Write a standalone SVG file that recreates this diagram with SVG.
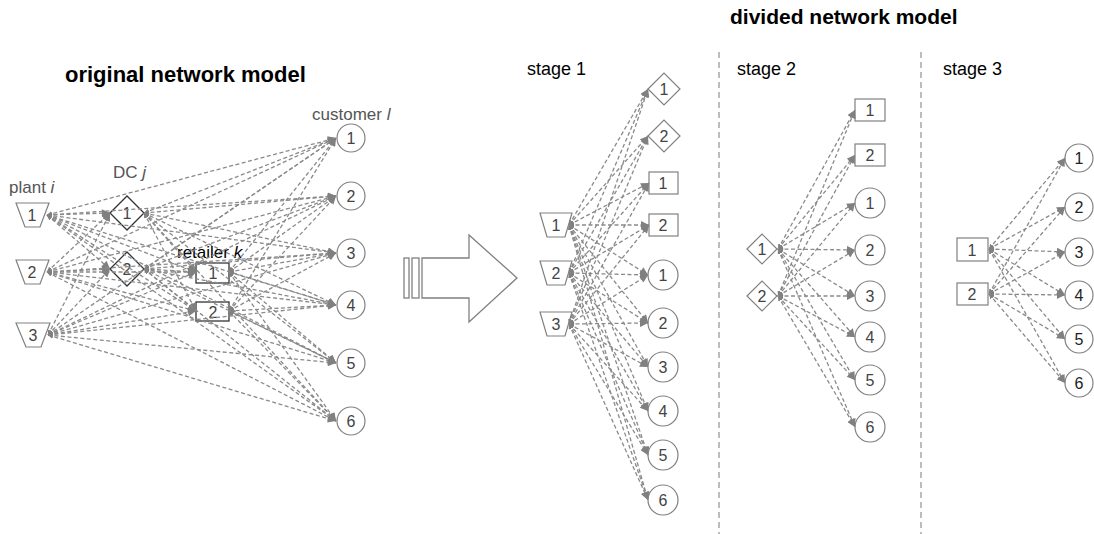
<svg xmlns="http://www.w3.org/2000/svg" width="1094" height="534" viewBox="0 0 1094 534">
<defs>
<style>
text { font-family: "Liberation Sans", Arial, sans-serif; }
.title { font-size: 21px; font-weight: bold; fill: #000; }
.stage { font-size: 18px; fill: #000; }
.lbl { font-size: 17px; fill: #555; }
.n { font-size: 16px; fill: #444; text-anchor: middle; }
.nd { font-size: 16px; fill: #222; text-anchor: middle; }
.sh { fill: #fff; stroke: #808080; stroke-width: 1.2; }
.dk { fill: none; stroke: #333; stroke-width: 1.3; }
.c { fill: none; stroke: #8a8a8a; stroke-width: 1.3; stroke-dasharray: 4 2.5; marker-start: url(#ms); marker-end: url(#me); }
.sep { stroke: #999; stroke-width: 1.3; stroke-dasharray: 6 4; }
</style>
<marker id="me" viewBox="0 0 10 10" refX="10" refY="5" markerWidth="9" markerHeight="8" markerUnits="userSpaceOnUse" orient="auto">
<path d="M0,0 L10,5 L0,10 z" fill="#808080"/>
</marker>
<marker id="ms" viewBox="0 0 10 10" refX="10" refY="5" markerWidth="5" markerHeight="5" markerUnits="userSpaceOnUse" orient="auto-start-reverse">
<path d="M0,0 L10,5 L0,10 z" fill="#808080"/>
</marker>
</defs>

<!-- titles -->
<text class="title" x="65" y="82" style="font-size:22px">original network model</text>
<text class="title" x="730" y="24">divided network model</text>
<text class="stage" x="527" y="75">stage 1</text>
<text class="stage" x="737" y="75">stage 2</text>
<text class="stage" x="943" y="75">stage 3</text>

<!-- stage separators -->
<line class="sep" x1="719" y1="52" x2="719" y2="534"/>
<line class="sep" x1="921" y1="52" x2="921" y2="534"/>

<!-- transformation arrow -->
<g id="transform-arrow" fill="#fff" stroke="#808080" stroke-width="1.3">
<rect x="404" y="258" width="5" height="40"/>
<rect x="412" y="258" width="7" height="40"/>
<polygon points="422,258 469,258 469,235 517,278 469,322 469,298 422,298"/>
</g>

<!-- original network: labels -->
<text class="lbl" x="9" y="193">plant <tspan font-style="italic">i</tspan></text>
<text class="lbl" x="113" y="178">DC <tspan font-style="italic">j</tspan></text>
<text class="lbl" x="312" y="120">customer <tspan font-style="italic">l</tspan></text>
<text class="lbl" x="177" y="258" style="fill:#000">retailer <tspan font-style="italic">k</tspan></text>

<!-- original network: nodes -->
<g id="o-plant1"><polygon class="sh" points="16,203 49,203 40,227 25,227"/><text class="n" x="32" y="221">1</text></g>
<g id="o-plant2"><polygon class="sh" points="16,260 49,260 40,284 25,284"/><text class="n" x="32" y="278">2</text></g>
<g id="o-plant3"><polygon class="sh" points="16,323 50,323 41,347 26,347"/><text class="n" x="33" y="341">3</text></g>
<g id="o-dc1"><polygon class="dk" points="110,213 127,196 144,213 127,230"/><text class="n" x="127" y="219">1</text></g>
<g id="o-dc2"><polygon class="dk" points="110,269 127,252 144,269 127,286"/><text class="n" x="127" y="275">2</text></g>
<g id="o-ret1"><rect class="dk" x="196" y="263" width="33" height="20"/><text class="n" x="213" y="279">1</text></g>
<g id="o-ret2"><rect class="dk" x="196" y="302" width="33" height="19"/><text class="n" x="213" y="318">2</text></g>
<g id="o-cus1"><circle class="sh" cx="351" cy="138" r="14"/><text class="n" x="351" y="144">1</text></g>
<g id="o-cus2"><circle class="sh" cx="351" cy="196" r="14"/><text class="n" x="351" y="202">2</text></g>
<g id="o-cus3"><circle class="sh" cx="351" cy="253" r="14"/><text class="n" x="351" y="259">3</text></g>
<g id="o-cus4"><circle class="sh" cx="351" cy="305" r="14"/><text class="n" x="351" y="311">4</text></g>
<g id="o-cus5"><circle class="sh" cx="351" cy="363" r="14"/><text class="n" x="351" y="369">5</text></g>
<g id="o-cus6"><circle class="sh" cx="351" cy="421" r="14"/><text class="n" x="351" y="427">6</text></g>

<!-- stage 1 nodes -->
<g id="s1-plant1"><polygon class="sh" points="540,213 572,213 565,237 547,237"/><text class="n" x="556" y="231">1</text></g>
<g id="s1-plant2"><polygon class="sh" points="540,261 572,261 565,285 547,285"/><text class="n" x="556" y="279">2</text></g>
<g id="s1-plant3"><polygon class="sh" points="540,312 572,312 565,336 547,336"/><text class="n" x="556" y="330">3</text></g>
<g id="s1-dc1"><polygon class="sh" points="648,89 664,73 680,89 664,105"/><text class="n" x="664" y="95">1</text></g>
<g id="s1-dc2"><polygon class="sh" points="648,136 664,120 680,136 664,152"/><text class="n" x="664" y="142">2</text></g>
<g id="s1-ret1"><rect class="sh" x="649" y="172" width="29" height="22"/><text class="n" x="663" y="189">1</text></g>
<g id="s1-ret2"><rect class="sh" x="649" y="214" width="29" height="22"/><text class="n" x="663" y="231">2</text></g>
<g id="s1-cus1"><circle class="sh" cx="663" cy="275" r="15"/><text class="n" x="663" y="281">1</text></g>
<g id="s1-cus2"><circle class="sh" cx="663" cy="323" r="15"/><text class="n" x="663" y="329">2</text></g>
<g id="s1-cus3"><circle class="sh" cx="663" cy="367" r="15"/><text class="n" x="663" y="373">3</text></g>
<g id="s1-cus4"><circle class="sh" cx="663" cy="411" r="15"/><text class="n" x="663" y="417">4</text></g>
<g id="s1-cus5"><circle class="sh" cx="663" cy="455" r="15"/><text class="n" x="663" y="461">5</text></g>
<g id="s1-cus6"><circle class="sh" cx="663" cy="500" r="15"/><text class="n" x="663" y="506">6</text></g>

<!-- stage 2 nodes -->
<g id="s2-dc1"><polygon class="sh" points="747,249 762,234 777,249 762,264"/><text class="n" x="762" y="255">1</text></g>
<g id="s2-dc2"><polygon class="sh" points="747,296 762,281 777,296 762,311"/><text class="n" x="762" y="302">2</text></g>
<g id="s2-ret1"><rect class="sh" x="855" y="99" width="30" height="22"/><text class="n" x="870" y="116">1</text></g>
<g id="s2-ret2"><rect class="sh" x="855" y="144" width="30" height="22"/><text class="n" x="870" y="161">2</text></g>
<g id="s2-cus1"><circle class="sh" cx="870" cy="203" r="15"/><text class="n" x="870" y="209">1</text></g>
<g id="s2-cus2"><circle class="sh" cx="870" cy="250" r="15"/><text class="n" x="870" y="256">2</text></g>
<g id="s2-cus3"><circle class="sh" cx="870" cy="296" r="15"/><text class="n" x="870" y="302">3</text></g>
<g id="s2-cus4"><circle class="sh" cx="870" cy="337" r="15"/><text class="n" x="870" y="343">4</text></g>
<g id="s2-cus5"><circle class="sh" cx="870" cy="380" r="15"/><text class="n" x="870" y="386">5</text></g>
<g id="s2-cus6"><circle class="sh" cx="870" cy="427" r="15"/><text class="n" x="870" y="433">6</text></g>

<!-- stage 3 nodes -->
<g id="s3-ret1"><rect class="sh" x="957" y="238" width="31" height="23"/><text class="n" x="972" y="256">1</text></g>
<g id="s3-ret2"><rect class="sh" x="957" y="283" width="31" height="22"/><text class="n" x="972" y="300">2</text></g>
<g id="s3-cus1"><circle class="sh" cx="1079" cy="158" r="14"/><text class="nd" x="1079" y="164">1</text></g>
<g id="s3-cus2"><circle class="sh" cx="1079" cy="207" r="14"/><text class="nd" x="1079" y="213">2</text></g>
<g id="s3-cus3"><circle class="sh" cx="1079" cy="252" r="14"/><text class="nd" x="1079" y="258">3</text></g>
<g id="s3-cus4"><circle class="sh" cx="1079" cy="295" r="14"/><text class="nd" x="1079" y="301">4</text></g>
<g id="s3-cus5"><circle class="sh" cx="1079" cy="339" r="14"/><text class="nd" x="1079" y="345">5</text></g>
<g id="s3-cus6"><circle class="sh" cx="1079" cy="383" r="14"/><text class="nd" x="1079" y="389">6</text></g>

<!-- connectors -->
<g id="connectors">
<!-- original: plants to DCs, retailers, customers -->
<path class="c" d="M47,215 L110,213"/><path class="c" d="M47,215 L110,269"/>
<path class="c" d="M47,215 L196,272"/><path class="c" d="M47,215 L196,311"/>
<path class="c" d="M47,215 L336,138"/><path class="c" d="M47,215 L336,196"/>
<path class="c" d="M47,215 L336,253"/><path class="c" d="M47,215 L336,305"/>
<path class="c" d="M47,215 L336,363"/><path class="c" d="M47,215 L336,421"/>
<path class="c" d="M47,272 L110,213"/><path class="c" d="M47,272 L110,269"/>
<path class="c" d="M47,272 L196,272"/><path class="c" d="M47,272 L196,311"/>
<path class="c" d="M47,272 L336,138"/><path class="c" d="M47,272 L336,196"/>
<path class="c" d="M47,272 L336,253"/><path class="c" d="M47,272 L336,305"/>
<path class="c" d="M47,272 L336,363"/><path class="c" d="M47,272 L336,421"/>
<path class="c" d="M48,335 L110,213"/><path class="c" d="M48,335 L110,269"/>
<path class="c" d="M48,335 L196,272"/><path class="c" d="M48,335 L196,311"/>
<path class="c" d="M48,335 L336,138"/><path class="c" d="M48,335 L336,196"/>
<path class="c" d="M48,335 L336,253"/><path class="c" d="M48,335 L336,305"/>
<path class="c" d="M48,335 L336,363"/><path class="c" d="M48,335 L336,421"/>
<!-- original: DCs to retailers, customers -->
<path class="c" d="M144,213 L196,272"/><path class="c" d="M144,213 L196,311"/>
<path class="c" d="M144,213 L336,138"/><path class="c" d="M144,213 L336,196"/>
<path class="c" d="M144,213 L336,253"/><path class="c" d="M144,213 L336,305"/>
<path class="c" d="M144,213 L336,363"/><path class="c" d="M144,213 L336,421"/>
<path class="c" d="M144,269 L196,272"/><path class="c" d="M144,269 L196,311"/>
<path class="c" d="M144,269 L336,138"/><path class="c" d="M144,269 L336,196"/>
<path class="c" d="M144,269 L336,253"/><path class="c" d="M144,269 L336,305"/>
<path class="c" d="M144,269 L336,363"/><path class="c" d="M144,269 L336,421"/>
<!-- original: retailers to customers -->
<path class="c" d="M229,272 L336,138"/><path class="c" d="M229,272 L336,196"/>
<path class="c" d="M229,272 L336,253"/><path class="c" d="M229,272 L336,305"/>
<path class="c" d="M229,272 L336,363"/><path class="c" d="M229,272 L336,421"/>
<path class="c" d="M229,311 L336,138"/><path class="c" d="M229,311 L336,196"/>
<path class="c" d="M229,311 L336,253"/><path class="c" d="M229,311 L336,305"/>
<path class="c" d="M229,311 L336,363"/><path class="c" d="M229,311 L336,421"/>

<!-- stage 1 -->
<path class="c" d="M569,225 L648,89"/><path class="c" d="M569,225 L648,136"/>
<path class="c" d="M569,225 L649,183"/><path class="c" d="M569,225 L649,225"/>
<path class="c" d="M569,225 L648,275"/><path class="c" d="M569,225 L648,323"/>
<path class="c" d="M569,225 L648,367"/><path class="c" d="M569,225 L648,411"/>
<path class="c" d="M569,225 L648,455"/><path class="c" d="M569,225 L648,500"/>
<path class="c" d="M569,273 L648,89"/><path class="c" d="M569,273 L648,136"/>
<path class="c" d="M569,273 L649,183"/><path class="c" d="M569,273 L649,225"/>
<path class="c" d="M569,273 L648,275"/><path class="c" d="M569,273 L648,323"/>
<path class="c" d="M569,273 L648,367"/><path class="c" d="M569,273 L648,411"/>
<path class="c" d="M569,273 L648,455"/><path class="c" d="M569,273 L648,500"/>
<path class="c" d="M569,324 L648,89"/><path class="c" d="M569,324 L648,136"/>
<path class="c" d="M569,324 L649,183"/><path class="c" d="M569,324 L649,225"/>
<path class="c" d="M569,324 L648,275"/><path class="c" d="M569,324 L648,323"/>
<path class="c" d="M569,324 L648,367"/><path class="c" d="M569,324 L648,411"/>
<path class="c" d="M569,324 L648,455"/><path class="c" d="M569,324 L648,500"/>

<!-- stage 2 -->
<path class="c" d="M778,249 L855,110"/><path class="c" d="M778,249 L855,155"/>
<path class="c" d="M778,249 L855,203"/><path class="c" d="M778,249 L855,250"/>
<path class="c" d="M778,249 L855,296"/><path class="c" d="M778,249 L855,337"/>
<path class="c" d="M778,249 L855,380"/><path class="c" d="M778,249 L855,427"/>
<path class="c" d="M778,296 L855,110"/><path class="c" d="M778,296 L855,155"/>
<path class="c" d="M778,296 L855,203"/><path class="c" d="M778,296 L855,250"/>
<path class="c" d="M778,296 L855,296"/><path class="c" d="M778,296 L855,337"/>
<path class="c" d="M778,296 L855,380"/><path class="c" d="M778,296 L855,427"/>

<!-- stage 3 -->
<path class="c" d="M989,249 L1065,158"/><path class="c" d="M989,249 L1065,207"/>
<path class="c" d="M989,249 L1065,252"/><path class="c" d="M989,249 L1065,295"/>
<path class="c" d="M989,249 L1065,339"/><path class="c" d="M989,249 L1065,383"/>
<path class="c" d="M989,294 L1065,158"/><path class="c" d="M989,294 L1065,207"/>
<path class="c" d="M989,294 L1065,252"/><path class="c" d="M989,294 L1065,295"/>
<path class="c" d="M989,294 L1065,339"/><path class="c" d="M989,294 L1065,383"/>
</g>
</svg>
